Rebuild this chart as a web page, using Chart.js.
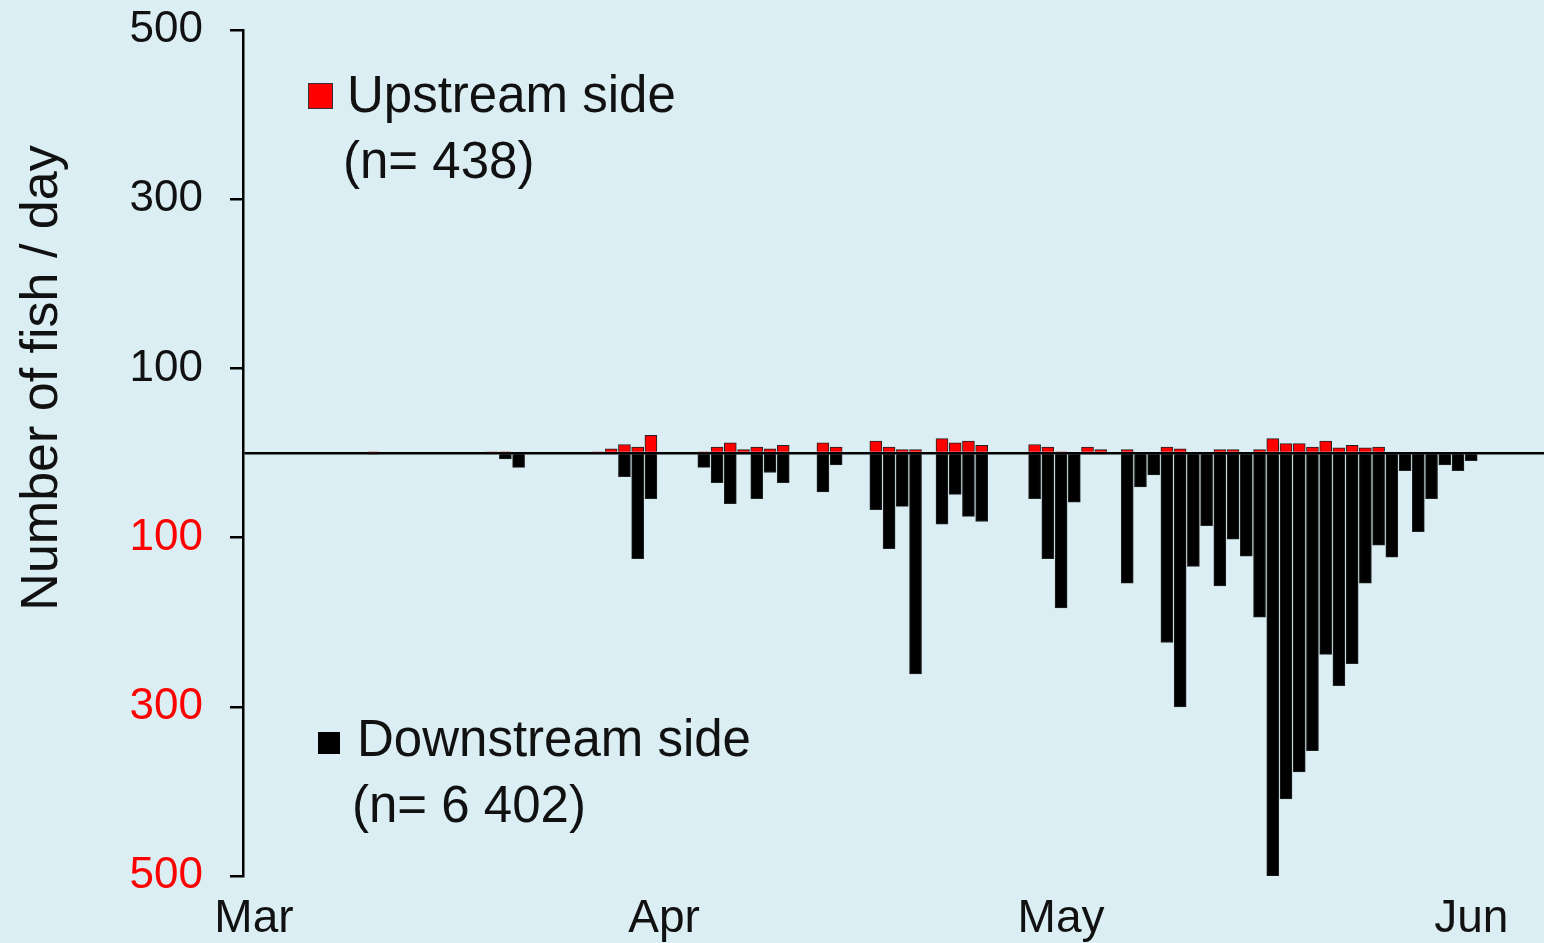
<!DOCTYPE html>
<html>
<head>
<meta charset="utf-8">
<script src="https://cdn.jsdelivr.net/npm/chart.js@4/dist/chart.umd.min.js"></script>
<style>
  html, body { margin:0; padding:0; background:#daeef4; }
  #wrap { width:1544px; height:943px; position:relative; }
</style>
</head>
<body>
<div id="wrap"><canvas id="fish_graph"></canvas></div>
<script>
// day offset from 1 March
const days = [9,18,19,20,26,27,28,29,30,34,35,36,37,38,39,40,43,44,47,48,49,50,52,53,54,55,
  59,60,61,62,63,64,66,67,68,69,70,71,72,73,74,75,76,77,78,79,80,81,82,83,84,85,86,87,88,89,90,91,92];
// fish per day, upstream side (red, up)
const upstream = [1,1,1,0,1,5,10,7,21,1,7,12,4,7,5,9,12,7,14,7,4,4,17,12,14,9,
  10,7,1,0,7,4,4,0,0,7,5,0,0,4,4,0,4,17,11,11,7,14,6,9,6,7,0,0,0,0,0,0,0];
// fish per day, downstream side (black, drawn down)
const downstream = [1,0,7,17,0,0,28,125,54,17,35,60,0,54,23,35,46,14,67,113,63,261,84,49,75,81,
  54,125,183,58,0,0,154,40,26,224,300,134,86,157,102,122,194,500,409,377,352,238,275,249,154,109,123,21,93,54,14,21,9];

const monthDays = [0,31,61,92];
const monthNames = ['Mar','Apr','May','Jun'];
const yTicks = [-500,-300,-100,0,100,300,500];

const FONT = '"Liberation Sans", Arial, sans-serif';

let up_data=[];
let down_data=[];
for(let i=0;i<days.length;i++){
  if(upstream[i]>0) up_data.push({x:days[i], y:upstream[i]});
  if(downstream[i]>0) down_data.push({x:days[i], y:-downstream[i]});
}

const bg_plugin = {
  id:'bg',
  beforeDraw(chart){
    const c = chart.ctx;
    c.save();
    c.fillStyle='#daeef4';
    c.fillRect(0,0,chart.width,chart.height);
    c.restore();
  }
};

// y title and the two legend boxes
const text_plugin = {
  id:'texts',
  afterDraw(chart){
    const c = chart.ctx;
    c.save();
    c.fillStyle='#111';
    c.font='52px '+FONT;
    c.translate(57,378);
    c.rotate(-Math.PI/2);
    c.textAlign='center';
    c.textBaseline='alphabetic';
    c.fillText('Number of fish / day',0,0);
    c.restore();

    c.save();
    c.font='51px '+FONT;
    c.textBaseline='alphabetic';
    c.fillStyle='#ff0000';
    c.strokeStyle='#333';
    c.lineWidth=1;
    c.fillRect(308,83,25,26);
    c.strokeRect(308.5,83.5,24,25);
    c.fillStyle='#111';
    c.fillText('Upstream side',347,112);
    c.fillText('(n= 438)',343,178);

    c.fillStyle='#000';
    c.fillRect(318,732,22,22);
    c.fillStyle='#111';
    c.fillText('Downstream side',357,756);
    c.fillText('(n= 6 402)',352,822);
    c.restore();
  }
};

const graph = document.getElementById('fish_graph').getContext('2d');

new Chart(graph,{
  type:'bar',
  data:{
    datasets:[{
      label:'Upstream side',
      data:up_data,
      backgroundColor:'#ff0000',
      borderColor:'#222',
      borderWidth:1,
      barThickness:12,
      grouped:false
    },{
      label:'Downstream side',
      data:down_data,
      backgroundColor:'#000',
      borderColor:'#222',
      borderWidth:1,
      barThickness:12,
      grouped:false
    }]
  },
  options:{
    responsive:true,
    maintainAspectRatio:false,
    animation:false,
    layout:{padding:{top:30,right:0,left:0,bottom:0}},
    plugins:{
      legend:{display:false},
      tooltip:{enabled:false}
    },
    scales:{
      x:{
        type:'linear',
        offset:false,
        min:-0.83,
        max:97.5,
        grid:{display:false, drawTicks:false, offset:false},
        border:{display:false},
        afterBuildTicks:(s)=>{ s.ticks = monthDays.map(v=>({value:v})); },
        afterFit:(s)=>{ s.height = 67; },
        ticks:{
          autoSkip:false,
          maxRotation:0,
          padding:16,
          color:'#111',
          font:{family:FONT, size:46},
          callback:(v)=>monthNames[monthDays.indexOf(v)]
        }
      },
      y:{
        min:-500,
        max:500,
        afterBuildTicks:(s)=>{ s.ticks = yTicks.map(v=>({value:v})); },
        afterFit:(s)=>{ s.width = 243; s.paddingTop = 0; s.paddingBottom = 0; },
        border:{color:'#000', width:2.5},
        grid:{
          color:(c)=> (c.tick && c.tick.value===0) ? '#000' : 'rgba(0,0,0,0)',
          lineWidth:2.5,
          tickLength:13,
          tickWidth:2.5,
          tickColor:(c)=> (c.tick && c.tick.value===0) ? 'rgba(0,0,0,0)' : '#000'
        },
        ticks:{
          padding:27,
          font:{family:FONT, size:44},
          color:(c)=> (c.tick && c.tick.value<0) ? '#ff0000' : '#111',
          callback:(v)=> v===0 ? '' : Math.abs(v)
        }
      }
    }
  },
  plugins:[bg_plugin,text_plugin]
});
</script>
</body>
</html>
